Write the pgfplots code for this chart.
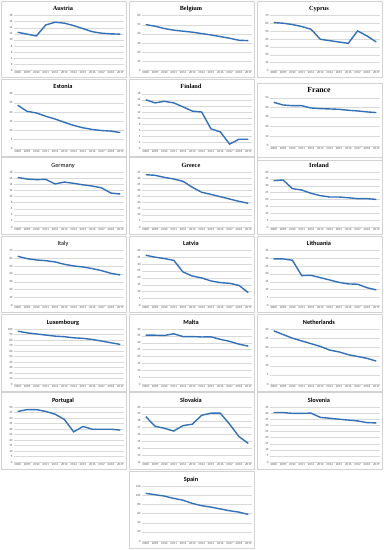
\documentclass[border=0pt]{standalone}
\usepackage{fontspec}
\usepackage{pgfplots}
\pgfplotsset{compat=1.18}
\newfontfamily\carlito{Carlito}
\newfontfamily\lserif{Liberation Serif}
\definecolor{linecol}{RGB}{52,112,182}
\definecolor{gridgray}{RGB}{217,217,217}
\definecolor{labelgray}{RGB}{89,89,89}
\definecolor{bordergray}{RGB}{210,210,210}
\pgfplotsset{panel/.style={scale only axis, width=110bp, height=55bp, anchor=north west,
  xmin=2007.6, xmax=2019.4, xtick={2008,...,2019},
  axis line style={draw=none}, major tick length=0pt,
  ymajorgrids, grid style={line width=0.3bp, draw=gridgray},
  tick label style={font=\carlito\fontsize{3.2}{3.2}\selectfont, text=labelgray},
  /pgf/number format/assume math mode=true, /pgf/number format/1000 sep={},
  xticklabel style={inner sep=0.5bp, yshift=-0.6bp},
  yticklabel style={inner sep=0.5bp, xshift=-0.8bp},
  every axis title/.style={font=\fontsize{6.3}{7}\selectfont, at={(axis description cs:0.445,1)}, anchor=base, inner sep=0pt, yshift=5bp},
  clip=false}}
% #1 x0, #2 plot top, #3 title, #4 ymin, #5 second tick, #6 ymax, #7 coords, #8 extra
\newcommand{\panel}[8]{%
  \draw[bordergray, line width=0.4bp] (#1bp+1bp,-#2bp+14.5bp) rectangle (#1bp+126bp,-#2bp-62bp);
  \begin{axis}[panel, at={(#1bp+14bp,-#2bp)}, ymin=#4, ymax=#6, ytick={#4,#5,...,#6}, title={#3}, #8]
  \addplot[linecol, line width=1.4bp, no marks] coordinates {#7};
  \end{axis}}
\begin{document}
\begin{tikzpicture}
\fill[white] (0,0) rectangle (384bp,-550bp);
\useasboundingbox (0,0) rectangle (384bp,-550bp);
% Row 1
\panel{0}{15.5}{\lserif\bfseries Austria}{0}{2}{18}{(2008,12.5)(2009,11.9)(2010,11.3)(2011,14.9)(2012,15.8)(2013,15.5)(2014,14.7)(2015,13.7)(2016,12.7)(2017,12.2)(2018,12.0)(2019,11.9)}{}
\panel{128}{15.5}{\lserif\bfseries Belgium}{0}{10}{60}{(2008,50.1)(2009,48.3)(2010,45.8)(2011,44)(2012,42.9)(2013,41.8)(2014,40.3)(2015,38.8)(2016,37)(2017,35.2)(2018,33)(2019,32.6)}{}
\panel{256}{15.5}{\lserif\bfseries Cyprus}{0}{10}{70}{(2008,61)(2009,60.2)(2010,58.5)(2011,56)(2012,52.5)(2013,39.7)(2014,38)(2015,36.3)(2016,34.6)(2017,50.4)(2018,44)(2019,36.3)}{}
% Row 2
\panel{0}{93.7}{\carlito\bfseries Estonia}{0}{5}{30}{(2008,23.7)(2009,20.4)(2010,19.5)(2011,17.7)(2012,16.2)(2013,14.4)(2014,12.7)(2015,11.4)(2016,10.5)(2017,9.9)(2018,9.6)(2019,8.8)}{}
\panel{128}{93.7}{\lserif\bfseries Finland}{0}{2}{18}{(2008,16)(2009,15)(2010,15.5)(2011,15)(2012,13.7)(2013,12.3)(2014,12)(2015,6.5)(2016,5.5)(2017,1.5)(2018,3.1)(2019,3.1)}{}
\panel{256}{97.7}{\lserif\bfseries\fontsize{7.8}{8}\selectfont France}{0}{10}{50}{(2008,45.2)(2009,42.4)(2010,41.7)(2011,41.7)(2012,39.3)(2013,38.6)(2014,38.3)(2015,37.9)(2016,36.9)(2017,36.2)(2018,35.2)(2019,34.5)}{height=48bp}
% Row 3
\panel{0}{172}{\carlito Germany}{0}{2}{18}{(2008,16.2)(2009,15.7)(2010,15.5)(2011,15.6)(2012,14.1)(2013,14.7)(2014,14.3)(2015,13.8)(2016,13.4)(2017,12.8)(2018,11.1)(2019,10.8)}{}
\panel{128}{172}{\lserif\bfseries Greece}{0}{5}{45}{(2008,42.8)(2009,42.3)(2010,40.6)(2011,39.3)(2012,37.4)(2013,32.5)(2014,28.4)(2015,26.7)(2016,24.8)(2017,22.9)(2018,21)(2019,19.4)}{}
\panel{256}{172}{\lserif\bfseries Ireland}{0}{5}{40}{(2008,33.7)(2009,34.2)(2010,27.9)(2011,26.9)(2012,24.5)(2013,22.8)(2014,21.8)(2015,21.8)(2016,21.3)(2017,20.6)(2018,20.6)(2019,20.1)}{}
% Row 4
\panel{0}{250.3}{\carlito Italy}{0}{10}{70}{(2008,62.4)(2009,59.4)(2010,57.7)(2011,56.8)(2012,55.2)(2013,52.2)(2014,50.1)(2015,48.8)(2016,46.7)(2017,44.1)(2018,40.7)(2019,38.6)}{}
\panel{128}{250.3}{\carlito\bfseries Latvia}{0}{5}{40}{(2008,36.4)(2009,35)(2010,34)(2011,32.7)(2012,24.2)(2013,21.3)(2014,19.9)(2015,17.7)(2016,16.5)(2017,16)(2018,14.5)(2019,9.2)}{}
\panel{256}{250.3}{\carlito\bfseries Lithuania}{0}{5}{35}{(2008,29.5)(2009,29.5)(2010,28.7)(2011,18.9)(2012,19.1)(2013,17.6)(2014,16.1)(2015,14.6)(2016,13.6)(2017,13.4)(2018,11.2)(2019,9.8)}{}
% Row 5
\panel{0}{329}{\carlito\bfseries Luxembourg}{0}{10}{100}{(2008,96)(2009,93)(2010,91)(2011,89)(2012,87)(2013,86)(2014,84)(2015,83)(2016,81)(2017,78)(2018,75)(2019,72)}{}
\panel{128}{329}{\carlito\bfseries Malta}{0}{5}{40}{(2008,35.5)(2009,35.5)(2010,35.3)(2011,36.5)(2012,34.5)(2013,34.5)(2014,34.2)(2015,34.3)(2016,32.5)(2017,31)(2018,29)(2019,27.5)}{}
\panel{256}{329}{\carlito\bfseries Netherlands}{0}{5}{30}{(2008,29)(2009,27)(2010,25)(2011,23.5)(2012,22)(2013,20.5)(2014,18.5)(2015,17.5)(2016,16)(2017,15)(2018,14)(2019,12.5)}{}
% Row 6
\panel{0}{407}{\carlito\bfseries Portugal}{0}{5}{50}{(2008,46)(2009,47.6)(2010,47.6)(2011,46)(2012,43.5)(2013,38.7)(2014,27.4)(2015,32.3)(2016,29.8)(2017,29.8)(2018,29.8)(2019,29)}{}
\panel{128}{407}{\carlito\bfseries Slovakia}{12}{13}{20}{(2008,18.6)(2009,17.2)(2010,16.9)(2011,16.5)(2012,17.3)(2013,17.5)(2014,18.8)(2015,19.1)(2016,19.1)(2017,17.5)(2018,15.7)(2019,14.7)}{}
\panel{256}{407}{\carlito\bfseries Slovenia}{0}{5}{45}{(2008,40.5)(2009,40.5)(2010,39.8)(2011,39.8)(2012,40)(2013,36.5)(2014,35.8)(2015,35)(2016,34.3)(2017,33.6)(2018,32.2)(2019,32)}{}
% Row 7
\panel{128}{486}{\carlito\bfseries Spain}{0}{20}{120}{(2008,104)(2009,101)(2010,98)(2011,93)(2012,89)(2013,82)(2014,77)(2015,74)(2016,70)(2017,66)(2018,63)(2019,58)}{}
\end{tikzpicture}
\end{document}
